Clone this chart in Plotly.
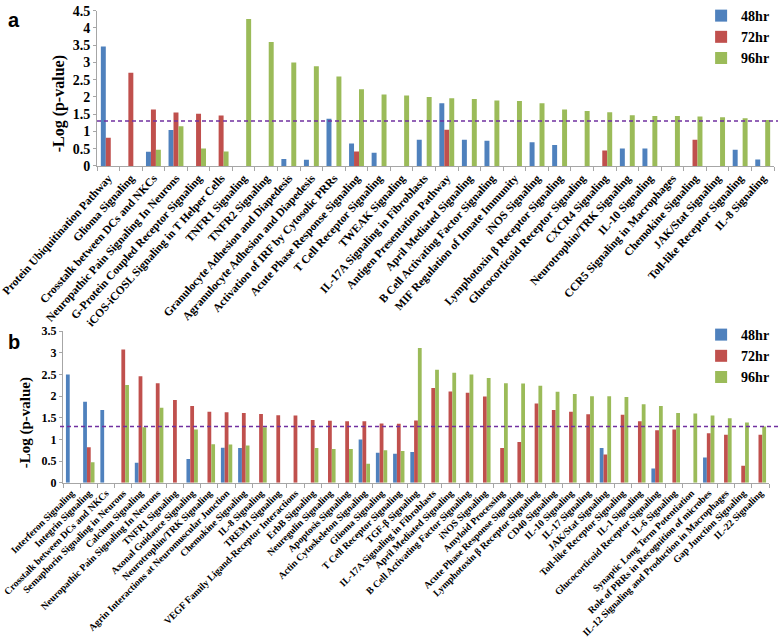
import plotly.graph_objects as go

W, H = 778, 639

# ---------------- data ----------------
cats_a = ["Protein Ubiquitination Pathway", "Glioma Signaling", "Crosstalk between DCs and NKCs",
          "Neuropathic Pain Signaling In Neurons", "G-Protein Coupled Receptor Signaling",
          "iCOS-iCOSL Signaling in T Helper Cells", "TNFR1 Signaling", "TNFR2 Signaling",
          "Granulocyte Adhesion and Diapedesis", "Agranulocyte Adhesion and Diapedesis",
          "Activation of IRF by Cytosolic PRRs", "Acute Phase Response Signaling",
          "T Cell Receptor Signaling", "TWEAK Signaling", "IL-17A Signaling in Fibroblasts",
          "Antigen Presentation Pathway", "April Mediated Signaling",
          "B Cell Activating Factor Signaling", "MIF Regulation of Innate Immunity",
          "iNOS Signaling", "Lymphotoxin β Receptor Signaling", "Glucocorticoid Receptor Signaling",
          "CXCR4 Signaling", "Neurotrophin/TRK Signaling", "IL-10 Signaling",
          "CCR5 Signaling in Macrophages", "Chemokine Signaling", "JAK/Stat Signaling",
          "Toll-like Receptor Signaling", "IL-8 Signaling"]
a_48hr = [3.46, 0, 0.41, 1.04, 0, 0, 0, 0, 0.20, 0.18, 1.37, 0.65, 0.38, 0, 0.76, 1.82, 0.76,
          0.73, 0, 0.69, 0.61, 0, 0, 0.51, 0.51, 0, 0, 0, 0.47, 0.19]
a_72hr = [0.82, 2.70, 1.64, 1.55, 1.51, 1.46, 0, 0, 0, 0, 0, 0.42, 0, 0, 0, 1.05, 0, 0, 0, 0,
          0, 0, 0.45, 0, 0, 0, 0.76, 0, 0, 0]
a_96hr = [0, 0, 0.47, 1.15, 0.51, 0.42, 4.26, 3.59, 3.00, 2.89, 2.59, 2.22, 2.07, 2.04, 2.00,
          1.96, 1.94, 1.90, 1.88, 1.82, 1.64, 1.59, 1.56, 1.47, 1.45, 1.45, 1.43, 1.41, 1.38, 1.33]

cats_b = ["Interferon Signaling", "Integrin Signaling", "Crosstalk between DCs and NKCs",
          "Semaphorin Signaling in Neurons", "Calcium Signaling",
          "Neuropathic Pain Signaling In Neurons", "TNFR1 Signaling", "Axonal Guidance Signaling",
          "Neurotrophin/TRK Signaling", "Agrin Interactions at Neuromuscular Junction",
          "Chemokine Signaling", "IL-8 Signaling", "TREM1 Signaling",
          "VEGF Family Ligand-Receptor Interactions", "ErbB Signaling", "Neuregulin Signaling",
          "Apoptosis Signaling", "Actin Cytoskeleton Signaling", "Glioma Signaling",
          "T Cell Receptor Signaling", "TGF-β Signaling", "IL-17A Signaling in Fibroblasts",
          "April Mediated Signaling", "B Cell Activating Factor Signaling", "iNOS Signaling",
          "Amyloid Processing", "Acute Phase Response Signaling",
          "Lymphotoxin β Receptor Signaling", "CD40 Signaling", "IL-10 Signaling",
          "IL-17 Signaling", "JAK/Stat Signaling", "Toll-like Receptor Signaling",
          "IL-1 Signaling", "Glucocorticoid Receptor Signaling", "IL-6 Signaling",
          "Synaptic Long Term Potentiation", "Role of PRRs in Recognition of microbes",
          "IL-12 Signaling and Production in Macrophages", "Gap Junction Signaling",
          "IL-22 Signaling"]
b_48hr = [2.50, 1.87, 1.68, 0, 0.46, 0, 0, 0.55, 0, 0.81, 0.80, 0, 0, 0, 0, 0, 0, 1.00, 0.69,
          0.67, 0.71, 0, 0, 0, 0, 0, 0, 0, 0, 0, 0, 0.80, 0, 0, 0.33, 0, 0, 0.58, 0, 0, 0]
b_72hr = [0, 0.82, 0, 3.08, 2.46, 2.30, 1.91, 1.77, 1.64, 1.63, 1.61, 1.59, 1.56, 1.55, 1.45,
          1.43, 1.42, 1.42, 1.37, 1.36, 1.44, 2.19, 2.11, 2.08, 1.99, 0.80, 0.94, 1.83, 1.68,
          1.64, 1.58, 0.65, 1.57, 1.42, 1.21, 1.23, 0, 1.14, 1.11, 0.39, 1.11]
b_96hr = [0, 0.47, 0, 2.26, 1.28, 1.73, 0, 1.23, 0.89, 0.88, 0.86, 1.28, 0, 0, 0.80, 0.78,
          0.78, 0.44, 0.75, 0.73, 3.11, 2.61, 2.54, 2.50, 2.42, 2.30, 2.29, 2.24, 2.10, 2.05,
          2.00, 2.00, 1.98, 1.81, 1.77, 1.61, 1.60, 1.55, 1.49, 1.39, 1.30]

series_names = ["48hr", "72hr", "96hr"]
threshold = 1.3

# ---------------- styling ----------------
colors = ["#4F81BD", "#C0504D", "#9BBB59"]
SERIF = "Liberation Serif"
AXIS_GRAY = "#A6A6A6"
DASH_COLOR = "#7030A0"

fig = go.Figure()
for name, vals, col in zip(series_names, [a_48hr, a_72hr, a_96hr], colors):
    fig.add_trace(go.Bar(x=cats_a, y=vals, name=name, marker=dict(color=col, line=dict(width=0)),
                         xaxis="x", yaxis="y", legend="legend"))
for name, vals, col in zip(series_names, [b_48hr, b_72hr, b_96hr], colors):
    fig.add_trace(go.Bar(x=cats_b, y=vals, name=name, marker=dict(color=col, line=dict(width=0)),
                         xaxis="x2", yaxis="y2", legend="legend2"))


def px_x(p):
    return p / W


def px_y(p):
    return 1 - p / H


xa_dom = [px_x(97), px_x(774)]
xb_dom = [px_x(63), px_x(769)]
ya_dom = [px_y(163), px_y(6.7)]
yb_dom = [px_y(481.7), px_y(329.3)]

common_x = dict(type="category", showgrid=False, zeroline=False, showline=True,
                linecolor=AXIS_GRAY, linewidth=1, ticks="outside", tickson="boundaries",
                ticklen=4, tickcolor=AXIS_GRAY, automargin=False)
common_y = dict(showgrid=False, zeroline=False, showline=True, linecolor=AXIS_GRAY,
                linewidth=1, ticks="outside", ticklen=3, tickcolor=AXIS_GRAY,
                dtick=0.5, tick0=0, automargin=False)

legend_common = dict(xanchor="right", yanchor="top", bgcolor="rgba(0,0,0,0)",
                     itemwidth=30, tracegroupgap=0,
                     font=dict(family=SERIF, size=14, color="black", weight="bold"))

fig.update_layout(
    width=W, height=H,
    margin=dict(l=0, r=0, t=0, b=0),
    paper_bgcolor="white", plot_bgcolor="white",
    barmode="group", bargap=0.34, bargroupgap=0,
    xaxis=dict(domain=xa_dom, anchor="y", tickangle=-48,
               tickfont=dict(family=SERIF, size=11.5, color="black", weight="bold"), **common_x),
    yaxis=dict(domain=ya_dom, anchor="x", range=[0, 4.5],
               tickfont=dict(family=SERIF, size=14, color="black", weight="bold"), **common_y),
    xaxis2=dict(domain=xb_dom, anchor="y2", tickangle=-45,
                tickfont=dict(family=SERIF, size=9.8, color="black", weight="bold"), **common_x),
    yaxis2=dict(domain=yb_dom, anchor="x2", range=[0, 3.5],
                tickfont=dict(family=SERIF, size=12, color="black", weight="bold"), **common_y),
    legend=dict(x=0.995, y=px_y(-4), **legend_common),
    legend2=dict(x=0.995, y=px_y(317), **legend_common),
    showlegend=True,
)

# threshold dashed lines
fig.add_shape(type="line", xref="paper", yref="y", x0=px_x(97), x1=1.0, y0=threshold, y1=threshold,
              line=dict(color=DASH_COLOR, width=1.5, dash="4px,3px"))
fig.add_shape(type="line", xref="paper", yref="y2", x0=px_x(60), x1=1.0, y0=threshold, y1=threshold,
              line=dict(color=DASH_COLOR, width=1.5, dash="4px,3px"))

# panel letters and y titles
ann_font_letter = dict(family="Liberation Sans", size=20, color="black", weight="bold")
fig.add_annotation(text="a", x=px_x(14), y=px_y(16), xref="paper", yref="paper",
                   xanchor="center", yanchor="middle", showarrow=False, font=ann_font_letter)
fig.add_annotation(text="b", x=px_x(14), y=px_y(340), xref="paper", yref="paper",
                   xanchor="center", yanchor="middle", showarrow=False, font=ann_font_letter)
fig.add_annotation(text="-Log (p-value)", x=px_x(59), y=px_y(101), xref="paper", yref="paper",
                   xanchor="center", yanchor="middle", textangle=-90, showarrow=False,
                   font=dict(family=SERIF, size=16, color="black", weight="bold"))
fig.add_annotation(text="-Log (p-value)", x=px_x(25), y=px_y(422), xref="paper", yref="paper",
                   xanchor="center", yanchor="middle", textangle=-90, showarrow=False,
                   font=dict(family=SERIF, size=15, color="black", weight="bold"))

fig.write_html("out.html", config={"displayModeBar": False},
               post_script="document.body.style.margin='0';document.body.style.padding='0';")
